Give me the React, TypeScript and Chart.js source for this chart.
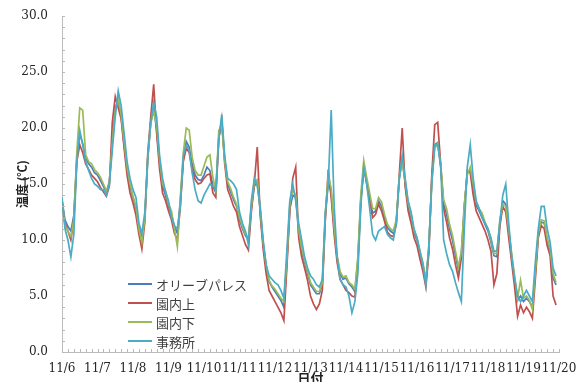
import { useEffect, useRef } from "react";
import { Chart, registerables } from "chart.js";

Chart.register(...registerables);

const dayLabels = ["11/6", "11/7", "11/8", "11/9", "11/10", "11/11", "11/12", "11/13", "11/14", "11/15", "11/16", "11/17", "11/18", "11/19", "11/20"];
const seriesNames = ["オリーブパレス", "園内上", "園内下", "事務所"];
const seriesColors = ["#4a7ebb", "#c0504d", "#9bbb59", "#4bacc6"];
const yTickValues = [0, 5, 10, 15, 20, 25, 30];
// samples every 2 hours from 11/6 0:00
const STEP_HOURS = 2;

const olive = [
  13.6, 11.8, 11.2, 10.8, 12.2, 17.2, 19.5, 18.6, 17.3, 16.8, 16.5, 16.0,
  15.8, 15.3, 14.8, 14.3, 15.2, 18.8, 21.8, 22.5, 21.0, 18.5, 16.2, 14.8,
  13.8, 12.8, 11.2, 10.2, 12.0, 17.2, 20.5, 21.8, 19.8, 16.8, 14.8, 14.0,
  13.0, 12.3, 11.2, 10.6, 13.5, 17.2, 18.8, 18.3, 16.8, 15.8, 15.4, 15.3,
  15.8, 16.5, 16.2, 14.8, 14.2, 19.2, 20.5, 17.2, 15.0, 14.3, 13.6, 13.0,
  11.8, 11.0, 10.4, 10.0, 12.8, 14.8, 15.2, 12.6, 9.6, 7.6, 6.3, 5.8,
  5.4, 5.0, 4.6, 4.0, 8.0, 12.8, 14.0, 13.8, 10.6, 9.0, 8.0, 7.0,
  6.0, 5.6, 5.2, 5.2, 6.0, 12.0, 15.2, 14.2, 11.0, 8.4, 7.0, 6.5,
  6.6, 6.1, 5.8, 5.4, 8.2, 13.6, 16.3, 15.3, 13.8, 12.4, 12.6, 13.5,
  13.0, 12.0, 11.1, 10.8, 10.6, 11.6, 15.4, 17.2, 15.0, 13.0, 12.0, 10.6,
  10.0, 8.8, 7.8, 6.3, 9.2, 15.5, 18.5, 18.7, 16.5, 13.2, 12.3, 11.0,
  10.0, 8.6, 7.3, 8.8, 13.0, 16.0, 16.2, 14.6, 13.1, 12.6, 12.0, 11.4,
  10.8, 9.8, 8.6, 8.5, 11.5, 13.5, 13.2, 10.8, 8.5, 6.5, 4.6, 5.0,
  4.5, 4.8, 4.5, 4.0, 7.0, 10.5, 11.6, 11.5, 10.0, 9.0, 6.6, 6.0,
];

const upper = [
  13.4, 11.5, 10.8, 10.0, 11.8, 17.0, 18.5, 17.8, 16.8, 16.3, 15.8, 15.5,
  15.2, 14.7, 14.3, 13.9, 14.8, 20.5, 22.8, 21.8, 20.8, 18.2, 15.8, 14.2,
  13.3, 12.2, 10.5, 9.2, 11.6, 17.8, 21.0, 23.9, 19.5, 16.3, 14.2, 13.5,
  12.6, 11.8, 10.6, 10.0, 13.0, 17.0, 18.2, 17.8, 16.3, 15.4, 15.0, 15.1,
  15.5, 15.8, 15.9, 14.2, 13.8, 19.0, 20.8, 16.8, 14.5, 13.8, 13.0, 12.5,
  11.2, 10.4, 9.6, 9.1, 12.5, 15.0, 18.3, 12.2, 9.2, 7.0, 5.5, 5.0,
  4.5, 4.0, 3.5, 2.8, 7.5, 12.5, 15.5, 16.5, 10.2, 8.5, 7.5, 6.4,
  5.0, 4.3, 3.8, 4.3, 5.5, 11.8, 16.3, 13.8, 10.5, 8.0, 6.5, 6.0,
  5.5, 5.3, 5.0, 4.9, 7.8, 13.4, 16.6, 15.0, 13.5, 12.0, 12.3, 13.2,
  12.6, 11.7, 10.7, 10.4, 10.3, 11.4, 15.8, 20.0, 14.8, 12.6, 11.5, 10.2,
  9.5, 8.3, 7.2, 5.8, 8.8, 15.8, 20.3, 20.5, 16.8, 12.8, 11.6, 10.2,
  9.2, 7.8, 6.6, 8.4, 12.8, 16.2, 16.0, 14.0, 12.6, 12.0, 11.4, 10.8,
  10.0, 9.0, 6.0, 7.0, 11.2, 13.0, 12.5, 10.2, 8.0, 5.8, 3.2, 4.2,
  3.5, 4.0, 3.6, 3.0, 6.5, 10.2, 11.3, 11.0, 9.5, 8.6, 5.0, 4.2,
];

const lower = [
  13.5, 11.3, 10.8, 10.3, 11.8, 17.8, 21.8, 21.6, 17.6, 17.0, 16.8, 16.3,
  16.0, 15.6, 15.0, 14.4, 15.0, 18.6, 21.5, 22.6, 21.2, 18.8, 16.5, 15.0,
  13.9, 13.0, 11.0, 9.8, 12.0, 17.4, 20.4, 21.5, 20.2, 17.2, 15.0, 14.4,
  13.2, 12.6, 11.0, 9.4, 13.8, 17.8, 20.0, 19.8, 17.4, 16.2, 15.8, 15.8,
  16.6, 17.4, 17.6, 15.6, 14.4, 19.8, 20.2, 17.0, 15.2, 14.6, 13.8, 13.2,
  12.0, 11.2, 10.5, 10.2, 13.0, 15.2, 15.4, 12.8, 9.8, 7.8, 6.4, 5.9,
  5.6, 5.2, 4.8, 4.5, 8.2, 13.2, 14.5, 14.0, 11.0, 9.3, 8.2, 7.2,
  6.2, 5.8, 5.4, 5.4, 6.2, 12.3, 15.8, 14.6, 11.2, 8.6, 7.2, 6.7,
  6.8, 6.2, 6.0, 5.6, 8.5, 14.0, 17.1, 15.6, 14.2, 12.8, 12.8, 13.8,
  13.4, 12.3, 11.4, 11.0, 10.8, 11.8, 15.6, 17.0, 15.3, 13.3, 12.3, 10.8,
  10.2, 9.0, 8.0, 6.4, 9.4, 15.2, 18.2, 18.6, 16.8, 13.6, 12.8, 11.4,
  10.4, 9.0, 7.6, 9.0, 13.2, 15.8, 16.5, 15.0, 13.4, 12.8, 12.4, 11.6,
  11.0, 10.0, 8.8, 8.8, 11.8, 13.2, 13.0, 11.0, 8.8, 6.8, 4.8, 6.4,
  4.8, 5.0, 4.6, 3.8, 7.2, 10.6, 11.8, 11.7, 10.2, 9.2, 7.0, 6.2,
];

const office = [
  13.8, 11.0, 10.0, 8.5, 10.5, 17.0, 19.8, 18.5, 17.0, 16.2, 15.5, 15.0,
  14.8, 14.5, 14.5, 14.0, 15.0, 18.0, 21.0, 23.3, 22.0, 19.5, 17.0, 15.5,
  14.5, 13.8, 11.5, 10.6, 12.5, 17.5, 20.5, 22.3, 21.0, 17.5, 15.5, 14.3,
  13.5, 12.0, 11.3, 11.0, 13.0, 17.5, 18.5, 18.0, 16.0, 14.5, 13.5, 13.3,
  14.0, 14.5, 15.0, 14.8, 14.5, 19.0, 21.2, 17.5, 15.5, 15.3, 15.0, 14.5,
  12.5, 11.5, 10.8, 9.6, 13.5, 15.5, 14.8, 13.0, 10.0, 7.8, 6.8, 6.5,
  6.2, 6.0, 5.5, 4.8, 9.0, 13.5, 15.0, 13.5, 11.5, 10.0, 8.5, 7.5,
  6.8, 6.5, 6.0, 5.8, 6.5, 12.5, 15.0, 21.6, 13.0, 8.5, 6.5, 6.0,
  5.8, 5.0, 3.5, 4.5, 7.0, 13.0, 16.5, 15.0, 12.8, 10.5, 10.0, 10.8,
  11.0, 11.2, 10.5, 10.2, 10.0, 11.5, 15.5, 17.5, 15.5, 13.5, 12.5, 11.0,
  10.2, 9.0, 7.8, 6.0, 9.5, 15.0, 18.5, 18.5, 16.8, 10.0, 8.8, 7.8,
  7.2, 6.2, 5.3, 4.5, 11.0, 16.5, 18.5, 15.5, 13.5, 12.8, 12.0, 11.5,
  11.0, 10.2, 9.0, 9.0, 11.5, 14.0, 15.0, 11.5, 8.5, 6.5, 5.0, 4.5,
  5.0, 5.5, 5.0, 4.5, 8.0, 11.0, 13.0, 13.0, 11.0, 9.8, 7.5, 6.8,
];

const seriesValues = [olive, upper, lower, office];

export default function App() {
  const ref = useRef<HTMLCanvasElement>(null);

  useEffect(() => {
    document.body.style.margin = "0";
    const canvas = ref.current;
    if (!canvas) return;

    const toPoints = (arr: number[]) => arr.map((v, i) => ({ x: (i * STEP_HOURS) / 24, y: v }));

    const minorTicks = {
      id: "minorTicks",
      afterDraw(chart: any) {
        const { ctx, scales, chartArea } = chart;
        const xs = scales.x;
        const ys = scales.y;
        ctx.save();
        ctx.strokeStyle = "#b8b8b8";
        ctx.lineWidth = 1;
        ctx.beginPath();
        for (let k = 0; k <= (dayLabels.length - 1) * 6; k++) {
          const px = Math.round(xs.getPixelForValue(k / 6)) + 0.5;
          ctx.moveTo(px, chartArea.bottom);
          ctx.lineTo(px, chartArea.bottom - 3);
        }
        for (let j = 0; j <= 30; j++) {
          const py = Math.round(ys.getPixelForValue(j)) + 0.5;
          ctx.moveTo(chartArea.left, py);
          ctx.lineTo(chartArea.left + 3, py);
        }
        ctx.stroke();
        ctx.restore();
      },
    };

    const insideLegend = {
      id: "insideLegend",
      afterDraw(chart: any) {
        const { ctx } = chart;
        ctx.save();
        ctx.font = '13px "Noto Sans CJK JP"';
        ctx.textBaseline = "middle";
        ctx.textAlign = "left";
        seriesNames.forEach((name, i) => {
          const y = 284 + i * 19;
          ctx.strokeStyle = seriesColors[i];
          ctx.lineWidth = 2;
          ctx.beginPath();
          ctx.moveTo(128, y);
          ctx.lineTo(152, y);
          ctx.stroke();
          ctx.fillStyle = "#404040";
          ctx.fillText(name, 156, y + 1);
        });
        ctx.restore();
      },
    };

    const chart = new Chart(canvas, {
      type: "line",
      data: {
        datasets: seriesNames.map((name, i) => ({
          label: name,
          data: toPoints(seriesValues[i]),
          borderColor: seriesColors[i],
          backgroundColor: seriesColors[i],
          borderWidth: 1.7,
          pointRadius: 0,
          tension: 0,
          fill: false,
          order: seriesNames.length - 1 - i,
        })),
      },
      options: {
        responsive: false,
        animation: false,
        devicePixelRatio: 1,
        layout: { padding: { top: 16, right: 17, left: 0, bottom: 0 } },
        plugins: {
          legend: { display: false },
          tooltip: { enabled: false },
        },
        scales: {
          x: {
            type: "linear",
            min: 0,
            max: dayLabels.length - 1,
            afterFit: (s: any) => {
              s.height = 30;
              s.paddingLeft = 0;
              s.paddingRight = 0;
            },
            afterBuildTicks: (s: any) => {
              s.ticks = dayLabels.map((_, i) => ({ value: i }));
            },
            ticks: {
              autoSkip: false,
              maxRotation: 0,
              minRotation: 0,
              padding: 10,
              color: "#262626",
              font: { family: '"DejaVu Serif"', size: 12 },
              callback: (v: any) => dayLabels[Math.round(Number(v))] ?? "",
            },
            grid: { drawOnChartArea: false, drawTicks: false },
            border: { display: true, color: "#bcbcbc", width: 1 },
            title: {
              display: true,
              text: "日付",
              color: "#222",
              font: { family: '"Noto Sans CJK JP"', size: 13, weight: "bold" },
              padding: { top: 0, bottom: -4 },
            },
          },
          y: {
            type: "linear",
            min: 0,
            max: 30,
            afterFit: (s: any) => {
              s.width = 62;
              s.paddingTop = 0;
              s.paddingBottom = 0;
            },
            afterBuildTicks: (s: any) => {
              s.ticks = yTickValues.map((v) => ({ value: v }));
            },
            ticks: {
              padding: 14,
              color: "#262626",
              font: { family: '"DejaVu Serif"', size: 12 },
              callback: (v: any) => Number(v).toFixed(1),
            },
            grid: { drawOnChartArea: false, drawTicks: false },
            border: { display: true, color: "#bcbcbc", width: 1 },
            title: {
              display: true,
              text: "温度 (℃)",
              color: "#222",
              font: { family: '"Noto Sans CJK JP"', size: 12, weight: "bold" },
              padding: { top: 15, bottom: 0 },
            },
          },
        },
      },
      plugins: [minorTicks, insideLegend],
    });

    return () => chart.destroy();
  }, []);

  return <canvas ref={ref} width={576} height={382} style={{ display: "block" }} />;
}
